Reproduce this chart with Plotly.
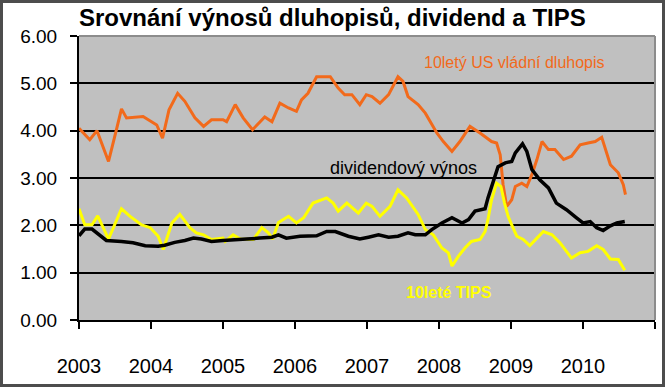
import plotly.graph_objects as go

# ---- data (decimal years, values in %) ----
bond_x = [2003.00, 2003.15, 2003.25, 2003.41, 2003.52, 2003.59, 2003.66, 2003.89, 2004.08, 2004.16,
          2004.25, 2004.37, 2004.47, 2004.61, 2004.73, 2004.84, 2005.00, 2005.05, 2005.17, 2005.28,
          2005.41, 2005.51, 2005.58, 2005.68, 2005.79, 2005.91, 2006.02, 2006.09, 2006.18, 2006.30,
          2006.49, 2006.60, 2006.69, 2006.79, 2006.90, 2006.99, 2007.07, 2007.18, 2007.30, 2007.43,
          2007.50, 2007.57, 2007.71, 2007.81, 2007.90, 2007.97, 2008.06, 2008.18, 2008.29, 2008.43,
          2008.57, 2008.73, 2008.80, 2008.85, 2008.89, 2008.94, 2009.01, 2009.06, 2009.15, 2009.22,
          2009.29, 2009.36, 2009.43, 2009.52, 2009.61, 2009.73, 2009.84, 2009.96, 2010.07, 2010.17,
          2010.26, 2010.38, 2010.49, 2010.56, 2010.59]
bond_y = [4.05, 3.81, 4.00, 3.35, 4.02, 4.46, 4.27, 4.30, 4.12, 3.84,
          4.44, 4.79, 4.62, 4.27, 4.09, 4.23, 4.23, 4.19, 4.55, 4.27,
          4.02, 4.19, 4.29, 4.19, 4.58, 4.48, 4.41, 4.65, 4.79, 5.14,
          5.14, 4.90, 4.76, 4.76, 4.55, 4.76, 4.72, 4.58, 4.76, 5.14,
          5.04, 4.72, 4.55, 4.37, 4.12, 3.95, 3.77, 3.56, 3.77, 4.09,
          3.95, 3.77, 3.74, 3.49, 2.86, 2.40, 2.54, 2.82, 2.89, 2.82,
          3.07, 3.39, 3.77, 3.60, 3.60, 3.39, 3.46, 3.70, 3.74, 3.77,
          3.86, 3.28, 3.11, 2.86, 2.65]

div_x = [2003.00, 2003.08, 2003.18, 2003.29, 2003.38, 2003.59, 2003.75, 2003.92, 2004.10, 2004.19,
         2004.33, 2004.47, 2004.59, 2004.70, 2004.84, 2005.00, 2005.14, 2005.33, 2005.51, 2005.68,
         2005.77, 2005.88, 2006.07, 2006.30, 2006.44, 2006.56, 2006.74, 2006.90, 2007.02, 2007.16,
         2007.30, 2007.43, 2007.57, 2007.67, 2007.81, 2007.90, 2008.04, 2008.18, 2008.32, 2008.41,
         2008.50, 2008.64, 2008.68, 2008.75, 2008.82, 2008.92, 2009.01, 2009.06, 2009.16, 2009.22,
         2009.29, 2009.40, 2009.52, 2009.63, 2009.77, 2009.91, 2010.00, 2010.10, 2010.19, 2010.28,
         2010.38, 2010.47, 2010.58]
div_y = [1.78, 1.92, 1.92, 1.80, 1.68, 1.66, 1.63, 1.57, 1.56, 1.58,
         1.64, 1.68, 1.73, 1.71, 1.66, 1.68, 1.70, 1.71, 1.73, 1.75,
         1.80, 1.73, 1.77, 1.78, 1.87, 1.87, 1.77, 1.71, 1.75, 1.80,
         1.75, 1.77, 1.84, 1.80, 1.80, 1.91, 2.05, 2.16, 2.05, 2.12,
         2.30, 2.35, 2.58, 2.93, 3.24, 3.32, 3.35, 3.53, 3.72, 3.56,
         3.18, 2.96, 2.79, 2.47, 2.33, 2.16, 2.05, 2.08, 1.95, 1.89,
         1.99, 2.05, 2.08]

tips_x = [2003.00, 2003.08, 2003.18, 2003.26, 2003.41, 2003.50, 2003.59, 2003.71, 2003.87, 2003.99,
          2004.10, 2004.17, 2004.29, 2004.40, 2004.54, 2004.63, 2004.73, 2004.84, 2005.00, 2005.03,
          2005.14, 2005.24, 2005.42, 2005.54, 2005.63, 2005.69, 2005.77, 2005.91, 2006.02, 2006.12,
          2006.25, 2006.44, 2006.53, 2006.60, 2006.72, 2006.88, 2006.99, 2007.07, 2007.18, 2007.32,
          2007.43, 2007.55, 2007.71, 2007.81, 2007.92, 2008.04, 2008.13, 2008.18, 2008.27, 2008.36,
          2008.45, 2008.57, 2008.64, 2008.68, 2008.73, 2008.80, 2008.86, 2008.91, 2008.96, 2009.01,
          2009.08, 2009.17, 2009.26, 2009.36, 2009.45, 2009.57, 2009.68, 2009.77, 2009.84, 2009.96,
          2010.07, 2010.19, 2010.28, 2010.38, 2010.49, 2010.58]
tips_y = [2.35, 2.01, 2.01, 2.20, 1.71, 2.05, 2.35, 2.19, 2.01, 1.95,
          1.77, 1.49, 2.05, 2.23, 1.95, 1.84, 1.80, 1.70, 1.73, 1.66,
          1.80, 1.71, 1.70, 1.95, 1.84, 1.71, 2.06, 2.19, 2.05, 2.16,
          2.47, 2.58, 2.47, 2.30, 2.47, 2.26, 2.47, 2.40, 2.19, 2.40,
          2.75, 2.58, 2.23, 1.91, 1.80, 1.52, 1.42, 1.14, 1.35, 1.52,
          1.66, 1.70, 1.87, 2.12, 2.54, 2.89, 2.82, 2.47, 2.19, 2.01,
          1.77, 1.70, 1.57, 1.73, 1.87, 1.80, 1.63, 1.45, 1.31, 1.42,
          1.45, 1.57, 1.49, 1.29, 1.28, 1.05]

year_ticks = [2003, 2004, 2005, 2006, 2007, 2008, 2009, 2010, 2011]
year_labels = ["2003", "2004", "2005", "2006", "2007", "2008", "2009", "2010", ""]
y_ticks = [0, 1, 2, 3, 4, 5, 6]

title = "Srovnání výnosů dluhopisů, dividend a TIPS"
lbl_bond = "10letý US vládní dluhopis"
lbl_div = "dividendový výnos"
lbl_tips = "10leté TIPS"

ORANGE = "#F26A1B"
YELLOW = "#FFFF00"
FONT = "Liberation Sans, Arial, sans-serif"

W, H = 665, 387
L, R, T, B = 79, 10, 36, 67
pw, ph = W - L - R, H - T - B

fig = go.Figure()
fig.add_trace(go.Scatter(x=bond_x, y=bond_y, mode="lines", line=dict(color=ORANGE, width=3), showlegend=False))
fig.add_trace(go.Scatter(x=tips_x, y=tips_y, mode="lines", line=dict(color=YELLOW, width=3), showlegend=False))
fig.add_trace(go.Scatter(x=div_x, y=div_y, mode="lines", line=dict(color="black", width=3.5), showlegend=False))

fig.add_annotation(x=2009.05, y=5.45, text=lbl_bond, showarrow=False,
                   font=dict(family=FONT, size=16, color=ORANGE))
fig.add_annotation(x=2007.51, y=3.22, text=lbl_div, showarrow=False,
                   font=dict(family=FONT, size=18, color="black"))
fig.add_annotation(x=2008.14, y=0.58, text="<b>" + lbl_tips + "</b>", showarrow=False,
                   font=dict(family=FONT, size=16, color=YELLOW))

# plot-area top/right border
fig.add_shape(type="line", xref="paper", yref="paper", x0=0, x1=1, y0=1, y1=1,
              line=dict(color="#8c8c8c", width=2))
fig.add_shape(type="line", xref="paper", yref="paper", x0=1, x1=1, y0=0, y1=1,
              line=dict(color="#8c8c8c", width=2))
# outer frame of the picture
fig.add_shape(type="rect", xref="paper", yref="paper",
              x0=(-L + 1.5) / pw, x1=(pw + R - 1.5) / pw,
              y0=(-B + 1.5) / ph, y1=(ph + T - 1.5) / ph,
              line=dict(color="#4d4d4d", width=3))

fig.update_layout(
    width=W, height=H,
    margin=dict(l=L, r=R, t=T, b=B),
    paper_bgcolor="white", plot_bgcolor="#C0C0C0",
    title=dict(text="<b>" + title + "</b>", x=L / W, xanchor="left", y=1 - 18 / H, yanchor="middle",
               font=dict(family=FONT, size=24, color="black")),
    xaxis=dict(range=[2003, 2011], tickmode="array", tickvals=year_ticks, ticktext=year_labels,
               showgrid=False, zeroline=False, showline=True, linecolor="black", linewidth=2,
               ticks="outside", ticklen=7, tickwidth=2, tickcolor="black",
               tickfont=dict(family=FONT, size=20, color="black"), ticklabelstandoff=20),
    yaxis=dict(range=[0, 6], tickmode="array", tickvals=y_ticks, tickformat=".2f",
               showgrid=True, gridcolor="black", gridwidth=2, zeroline=False,
               showline=True, linecolor="black", linewidth=2,
               ticks="outside", ticklen=7, tickwidth=2, tickcolor="black",
               tickfont=dict(family=FONT, size=19, color="black"), ticklabelstandoff=9),
)

fig.write_html("out.html", config={"displayModeBar": False},
               post_script="document.body.style.margin='0';")
